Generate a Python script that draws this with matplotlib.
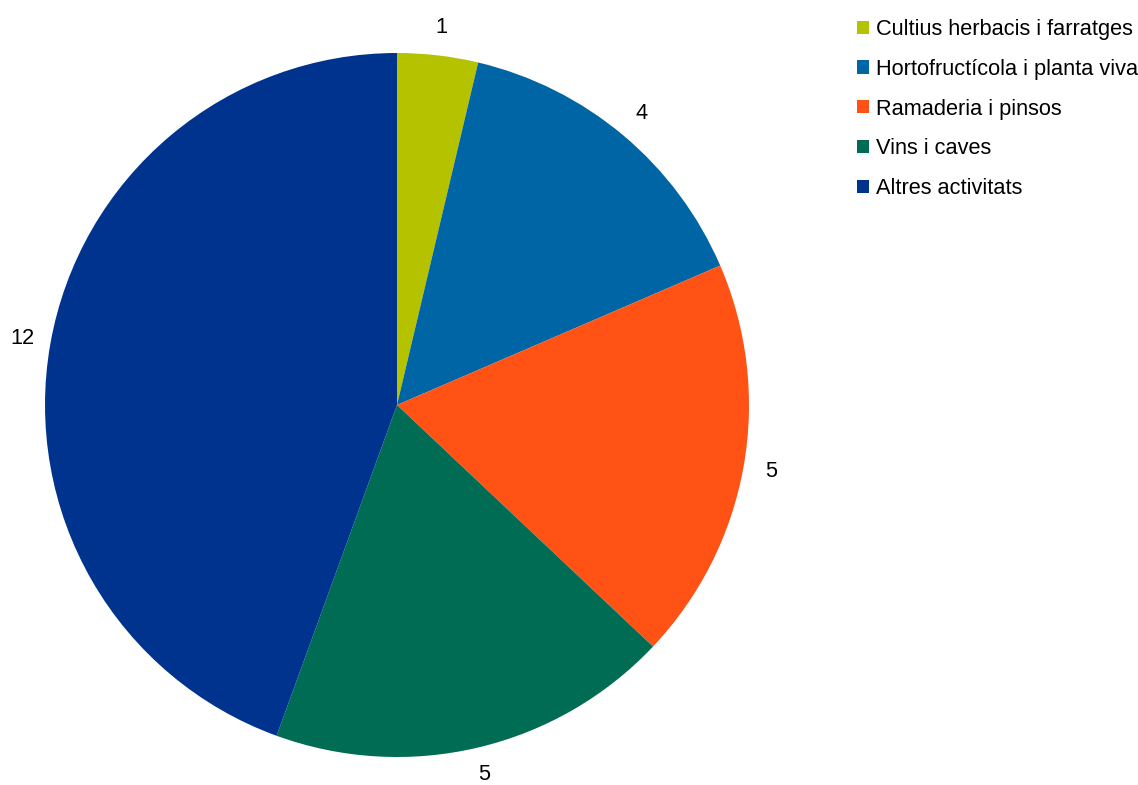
import matplotlib
matplotlib.use("Agg")
import matplotlib.pyplot as plt
from matplotlib.patches import Patch

plt.rcParams['font.family'] = ['Liberation Sans', 'DejaVu Sans']

categories = ["Cultius herbacis i farratges", "Hortofructícola i planta viva",
              "Ramaderia i pinsos", "Vins i caves", "Altres activitats"]
values = [1, 4, 5, 5, 12]
colors = ["#b5c200", "#0065a4", "#ff5214", "#006c54", "#00338d"]

FS = 15.7
W, H = 1138, 785
fig = plt.figure(figsize=(W / 100, H / 100), dpi=100)
cx, cy, R = 397, 405, 352
ax = fig.add_axes([(cx - R) / W, (H - cy - R) / H, 2 * R / W, 2 * R / H])
wedges, texts = ax.pie(values, colors=colors, startangle=90, counterclock=False,
                       labels=[str(v) for v in values], labeldistance=1.08,
                       radius=1.0, textprops=dict(fontsize=FS, color="black"))
for t in texts:
    t.set_ha('center')
    t.set_va('center')
ax.set_xlim(-1, 1)
ax.set_ylim(-1, 1)
ax.set_aspect('equal')
ax.axis('off')

handles = [Patch(facecolor=c, edgecolor='none') for c in colors]
fig.legend(handles, categories, loc='upper left', bbox_to_anchor=(857 / W, 1 - 19 / H),
           frameon=False, fontsize=FS, handlelength=0.55, handleheight=0.55,
           handletextpad=0.32, labelspacing=0.86, borderpad=0, borderaxespad=0)

fig.savefig("out.png", dpi=100)
